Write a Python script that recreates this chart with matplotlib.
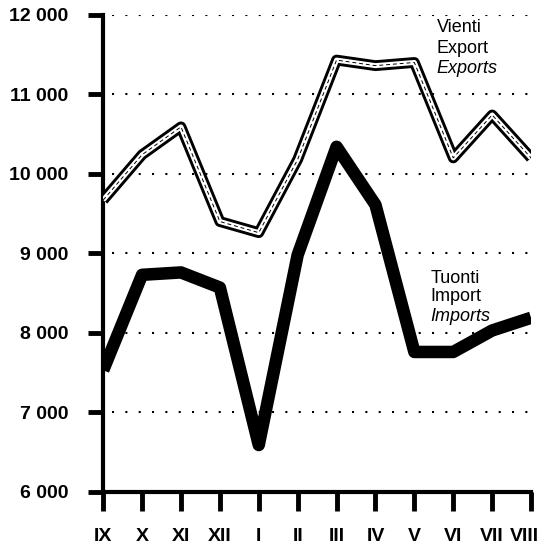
import matplotlib
matplotlib.use("Agg")
import matplotlib.pyplot as plt

months = ["IX", "X", "XI", "XII", "I", "II", "III", "IV", "V", "VI", "VII", "VIII"]
exports = [9670, 10240, 10590, 9400, 9260, 10180, 11430, 11360, 11400, 10200, 10740, 10200]
imports = [7530, 8730, 8760, 8570, 6590, 8980, 10340, 9610, 7760, 7760, 8030, 8190]
yticks = [6000, 7000, 8000, 9000, 10000, 11000, 12000]
ylabels = ["6 000", "7 000", "8 000", "9 000", "10 000", "11 000", "12 000"]

plt.rcParams['font.family'] = ['Liberation Sans', 'DejaVu Sans']

fig = plt.figure(figsize=(5.43, 5.46), dpi=100)
ax = fig.add_axes([0.19, 0.099, 0.788, 0.874])

x = list(range(len(months)))

# dotted grid
for y in yticks[1:]:
    ax.plot([0.22, len(months) - 1], [y, y], color='black', linestyle=(0, (1, 5.4)),
            linewidth=1.5, zorder=1)

# exports: double line with a dashed core
ax.plot(x, exports, color='black', linewidth=7.8, solid_joinstyle='round',
        solid_capstyle='butt', zorder=3)
ax.plot(x, exports, color='white', linewidth=3.6, solid_joinstyle='round',
        solid_capstyle='butt', zorder=4)
ax.plot(x, exports, color='black', linewidth=0.7, linestyle=(0, (4, 3)), zorder=5)

# imports: thick black line
ax.plot(x, imports, color='black', linewidth=9, solid_joinstyle='round',
        solid_capstyle='butt', zorder=3)

ax.set_xlim(0, len(months) - 1)
ax.set_ylim(6000, 12000)
ax.set_yticks(yticks)
ax.set_yticklabels(ylabels, fontsize=14, fontweight='bold')
ax.set_xticks(x)
ax.set_xticklabels([])

# month labels drawn by hand so the last one can sit inside the figure
for i, m in enumerate(months):
    dx = -5 if i == len(months) - 1 else 0
    ax.annotate(m, xy=(i, 0), xycoords=ax.get_xaxis_transform(),
                xytext=(dx, -26), textcoords='offset points',
                ha='center', va='top', fontsize=14, fontweight='bold')

for s in ['top', 'right']:
    ax.spines[s].set_visible(False)
for s in ['left', 'bottom']:
    ax.spines[s].set_linewidth(3)
ax.tick_params(axis='y', direction='out', length=11, width=3.5, pad=14)
ax.tick_params(axis='x', direction='out', length=14, width=3.5)

ax.text(8.58, 11786, "Vienti", fontsize=13, va='baseline', ha='left')
ax.text(8.58, 11522, "Export", fontsize=13, va='baseline', ha='left')
ax.text(8.58, 11270, "Exports", fontsize=13, va='baseline', ha='left', style='italic')
ax.text(8.41, 8628, "Tuonti", fontsize=13, va='baseline', ha='left')
ax.text(8.41, 8402, "Import", fontsize=13, va='baseline', ha='left')
ax.text(8.41, 8150, "Imports", fontsize=13, va='baseline', ha='left', style='italic')

fig.savefig("out.png", dpi=100)
